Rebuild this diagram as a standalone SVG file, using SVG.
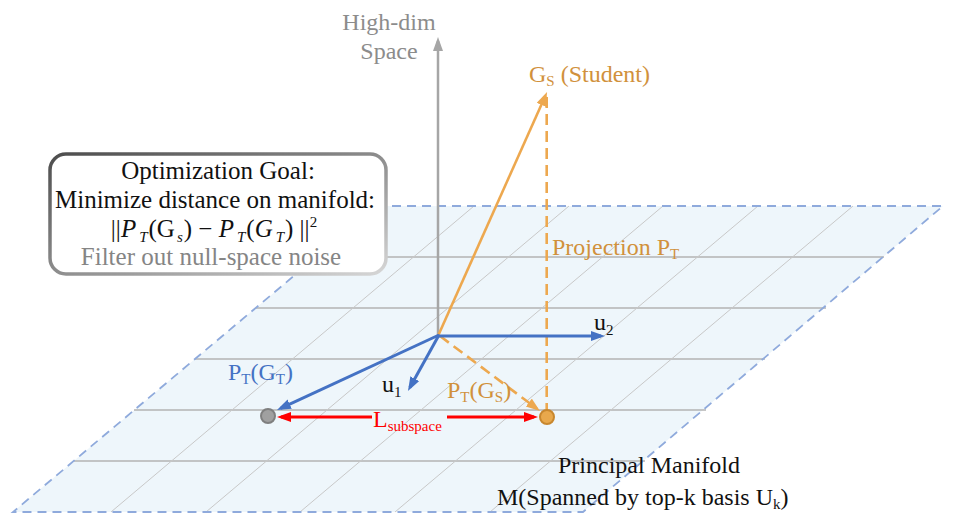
<svg xmlns="http://www.w3.org/2000/svg" width="958" height="525" viewBox="0 0 958 525" font-family="'Liberation Serif', Tinos, 'Times New Roman', Times, 'Noto Serif', 'DejaVu Serif', serif">
<defs>
<style>
text{font-size:24px}
.box{font-size:25px}
.orange{fill:#D1913C}
.blue{fill:#4472C4}
.gray{fill:#8C8C8C}
.red{fill:#FF0000}
.blk{fill:#111}
.sub{font-size:15px}
.hgrid{stroke:#B3B3B3;stroke-width:1.3}
.dgrid{stroke:#C8C8C8;stroke-width:1}
.barrow{stroke:#4472C4;stroke-width:3;fill:none;marker-end:url(#mb)}
.rarrow{stroke:#FF0000;stroke-width:3.2;fill:none;marker-end:url(#mr)}
</style>
<marker id="mb" markerUnits="userSpaceOnUse" markerWidth="15" markerHeight="11" refX="10" refY="5" orient="auto"><path d="M0,0 L14,5 L0,10 z" fill="#4472C4"/></marker>
<marker id="mo" markerUnits="userSpaceOnUse" markerWidth="15" markerHeight="11" refX="10" refY="5" orient="auto"><path d="M0,0 L14,5 L0,10 z" fill="#EDA84F"/></marker>
<marker id="mg" markerUnits="userSpaceOnUse" markerWidth="15" markerHeight="11" refX="10" refY="5" orient="auto"><path d="M0,0 L14,5 L0,10 z" fill="#A6A6A6"/></marker>
<marker id="mr" markerUnits="userSpaceOnUse" markerWidth="15" markerHeight="11" refX="10" refY="5" orient="auto"><path d="M0,0 L14,5 L0,10 z" fill="#FF0000"/></marker>
<linearGradient id="bevel" x1="0" y1="0" x2="1" y2="1">
<stop offset="0" stop-color="#4d4d4d"/>
<stop offset="0.6" stop-color="#9a9a9a"/>
<stop offset="1" stop-color="#d6d6d6"/>
</linearGradient>
</defs>

<g id="manifold">
<polygon points="377,206 943,206 583,512 13,512" fill="#EEF6FB"/>
<g id="grid">
<line class="hgrid" x1="316" y1="257" x2="884" y2="257"/>
<line class="hgrid" x1="256" y1="308" x2="826" y2="308"/>
<line class="hgrid" x1="195" y1="359" x2="765" y2="359"/>
<line class="hgrid" x1="134" y1="410" x2="706" y2="410"/>
<line class="hgrid" x1="74" y1="461" x2="645" y2="461"/>
<line class="dgrid" x1="111" y1="512" x2="474" y2="206"/>
<line class="dgrid" x1="206" y1="512" x2="569" y2="206"/>
<line class="dgrid" x1="300" y1="512" x2="663" y2="206"/>
<line class="dgrid" x1="395" y1="512" x2="758" y2="206"/>
<line class="dgrid" x1="490" y1="512" x2="853" y2="206"/>
</g>
<polygon points="377,206 943,206 583,512 13,512" fill="none" stroke="#8FAADC" stroke-width="1.8" stroke-dasharray="9 6"/>
</g>

<g id="connectors">
<line x1="438" y1="337" x2="438" y2="41" stroke="#A6A6A6" stroke-width="2.5" marker-end="url(#mg)"/>
<line x1="546.7" y1="97" x2="546.7" y2="410" stroke="#EDA84F" stroke-width="2.6" stroke-dasharray="11 6"/>
<line x1="438" y1="336" x2="545.4" y2="95.7" stroke="#EDA84F" stroke-width="2.6" marker-end="url(#mo)"/>
<line x1="440" y1="336" x2="536.8" y2="408.6" stroke="#EDA84F" stroke-width="2.6" stroke-dasharray="11 6" marker-end="url(#mo)"/>
<line class="barrow" x1="439" y1="335" x2="280.6" y2="408.3"/>
<line class="barrow" x1="439" y1="335" x2="409.9" y2="387.5"/>
<line class="barrow" x1="438" y1="336" x2="601" y2="336"/>
<line class="rarrow" x1="372" y1="417" x2="281" y2="417"/>
<line class="rarrow" x1="447" y1="417" x2="534" y2="417"/>
</g>

<g id="node-gt">
<circle cx="268" cy="416" r="7" fill="#A0A0A0" stroke="#7F7F7F" stroke-width="2"/>
</g>
<g id="node-gs">
<circle cx="547" cy="417" r="7" fill="#E8A84C" stroke="#C8872E" stroke-width="2"/>
</g>

<g id="goal-box">
<rect x="50" y="154" width="336" height="120" rx="16" fill="#FFFFFF" stroke="url(#bevel)" stroke-width="3.5"/>
<text class="box blk" x="218" y="179" text-anchor="middle">Optimization Goal:</text>
<text class="box blk" x="215" y="208" text-anchor="middle">Minimize distance on manifold:</text>
<text class="box blk" x="214" y="237" text-anchor="middle">||<tspan font-style="italic">P</tspan><tspan class="sub" font-style="italic" dx="3" dy="5">T</tspan><tspan dx="1" dy="-5">(G</tspan><tspan class="sub" font-style="italic" dx="2" dy="5">s</tspan><tspan dx="1" dy="-5">) − </tspan><tspan font-style="italic">P</tspan><tspan class="sub" font-style="italic" dx="3" dy="5">T</tspan><tspan dx="1" dy="-5">(</tspan><tspan font-style="italic">G</tspan><tspan class="sub" font-style="italic" dx="3" dy="5">T</tspan><tspan dx="1" dy="-5">) ||</tspan><tspan class="sub" dy="-10">2</tspan></text>
<text class="box" x="211" y="265" text-anchor="middle" fill="#858585">Filter out null-space noise</text>
</g>

<g id="labels">
<text class="gray" x="389" y="30" text-anchor="middle">High-dim</text>
<text class="gray" x="389" y="59" text-anchor="middle">Space</text>
<text class="orange" x="529" y="82">G<tspan class="sub" dy="4">S</tspan><tspan dy="-4"> (Student)</tspan></text>
<text class="orange" x="552" y="255">Projection P<tspan class="sub" dy="4">T</tspan></text>
<text class="blk" x="594" y="330">u<tspan class="sub" dy="5">2</tspan></text>
<text class="blk" x="382" y="392">u<tspan class="sub" dy="5">1</tspan></text>
<text class="blue" x="228" y="380">P<tspan class="sub" dy="4">T</tspan><tspan dy="-4">(G</tspan><tspan class="sub" dy="4">T</tspan><tspan dy="-4">)</tspan></text>
<text class="orange" x="447" y="398">P<tspan class="sub" dy="4">T</tspan><tspan dy="-4">(G</tspan><tspan class="sub" dy="4">S</tspan><tspan dy="-4">)</tspan></text>
<text class="red" x="373" y="427">L<tspan class="sub" font-size="17px" dy="4">subspace</tspan></text>
<text class="blk" x="649" y="473" text-anchor="middle">Principal Manifold</text>
<text class="blk" x="497" y="505">M(Spanned by top-k basis U<tspan class="sub" dy="4">k</tspan><tspan dy="-4">)</tspan></text>
</g>
</svg>
